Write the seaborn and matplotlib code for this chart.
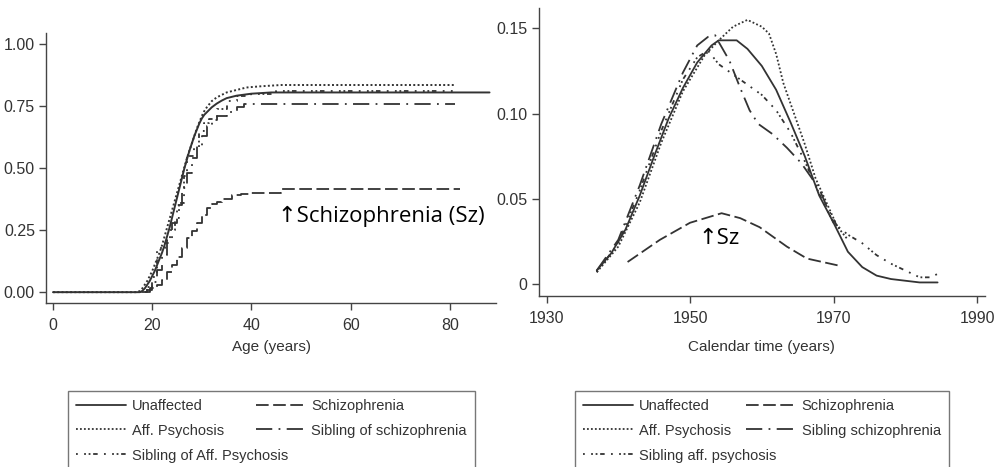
import matplotlib
matplotlib.use("Agg")
import matplotlib.pyplot as plt
from matplotlib.lines import Line2D
import seaborn as sns
import pandas as pd

# ---- left panel: cumulative incidence by age ----
age_unaff = [0, 17.5, 18, 18.5, 19, 19.5, 20, 20.5, 21, 21.5, 22, 22.5, 23, 23.5, 24, 24.5, 25, 25.5, 26, 26.5, 27, 27.5, 28, 28.5, 29, 29.5, 30, 30.5, 31, 32, 33, 34, 35, 37, 40, 44, 88]
inc_unaff = [0, 0, 0.005, 0.015, 0.03, 0.045, 0.065, 0.085, 0.11, 0.135, 0.16, 0.19, 0.225, 0.26, 0.30, 0.34, 0.38, 0.42, 0.46, 0.50, 0.535, 0.57, 0.60, 0.63, 0.655, 0.68, 0.70, 0.715, 0.725, 0.745, 0.76, 0.772, 0.782, 0.792, 0.80, 0.805, 0.805]
age_aff = [0, 17, 17.5, 18, 18.5, 19, 19.5, 20, 20.5, 21, 21.5, 22, 22.5, 23, 23.5, 24, 24.5, 25, 25.5, 26, 26.5, 27, 27.5, 28, 28.5, 29, 29.5, 30, 30.5, 31, 32, 33, 34, 35, 37, 39, 42, 46, 81]
inc_aff = [0, 0, 0.005, 0.015, 0.03, 0.045, 0.065, 0.085, 0.11, 0.135, 0.16, 0.19, 0.225, 0.26, 0.295, 0.33, 0.365, 0.40, 0.435, 0.47, 0.505, 0.54, 0.57, 0.60, 0.63, 0.66, 0.685, 0.71, 0.73, 0.745, 0.77, 0.785, 0.795, 0.805, 0.815, 0.825, 0.83, 0.835, 0.835]
age_sibaff = [17.5, 19, 20, 21, 22.5, 23.5, 24.5, 25.5, 26.5, 27, 28.5, 29.5, 30.5, 31.5, 33, 35, 37, 40, 45, 81]
inc_sibaff = [0, 0.02, 0.06, 0.18, 0.20, 0.25, 0.30, 0.36, 0.47, 0.55, 0.58, 0.65, 0.68, 0.70, 0.74, 0.77, 0.79, 0.80, 0.81, 0.81]
age_sz = [18.5, 19.5, 21, 22, 23, 24, 25, 26, 27, 28, 29, 30, 31, 32, 33, 34, 36, 38, 40, 46, 82]
inc_sz = [0, 0.015, 0.03, 0.05, 0.08, 0.11, 0.14, 0.18, 0.22, 0.245, 0.28, 0.31, 0.34, 0.355, 0.365, 0.375, 0.39, 0.395, 0.40, 0.415, 0.415]
age_sibsz = [18, 19, 20, 21, 22, 23, 24, 25, 26, 27, 28, 29, 30, 31, 32, 33, 35, 37, 38.5, 81]
inc_sibsz = [0, 0.01, 0.04, 0.09, 0.15, 0.21, 0.28, 0.35, 0.42, 0.48, 0.54, 0.59, 0.63, 0.67, 0.695, 0.71, 0.725, 0.745, 0.76, 0.76]

# ---- right panel: density by calendar year ----
yr_unaff = [1937, 1939, 1941, 1943, 1945, 1947, 1949, 1951, 1953, 1954, 1956.5, 1958, 1960, 1962, 1964, 1966, 1968, 1970, 1972, 1974, 1976, 1978, 1980, 1982, 1984.5]
den_unaff = [0.008, 0.018, 0.032, 0.052, 0.075, 0.097, 0.115, 0.130, 0.140, 0.143, 0.143, 0.138, 0.128, 0.114, 0.095, 0.075, 0.052, 0.036, 0.019, 0.010, 0.005, 0.003, 0.002, 0.001, 0.001]
yr_aff = [1937, 1940, 1943, 1946, 1949, 1952, 1954, 1956, 1958, 1960, 1961, 1962, 1963, 1964.5, 1966, 1967.5, 1969, 1970.5, 1972]
den_aff = [0.007, 0.022, 0.048, 0.083, 0.113, 0.134, 0.143, 0.151, 0.155, 0.151, 0.147, 0.135, 0.118, 0.100, 0.082, 0.062, 0.048, 0.034, 0.026]
yr_sibaff = [1937, 1940, 1943, 1946, 1949, 1951, 1952.5, 1954, 1957, 1960, 1962, 1964, 1966, 1968, 1970, 1972, 1974, 1976, 1978, 1980, 1982, 1983.5, 1985]
den_sibaff = [0.007, 0.024, 0.055, 0.090, 0.120, 0.133, 0.137, 0.129, 0.120, 0.111, 0.102, 0.089, 0.072, 0.053, 0.036, 0.029, 0.024, 0.017, 0.012, 0.008, 0.004, 0.004, 0.007]
yr_sz = [1941.3, 1945.8, 1950, 1954.4, 1957, 1959.7, 1963.5, 1966.3, 1970.6]
den_sz = [0.013, 0.026, 0.036, 0.0416, 0.0387, 0.0334, 0.022, 0.015, 0.011]
yr_sibsz = [1937, 1940, 1943, 1946, 1949, 1951, 1952.5, 1953.5, 1954, 1955.5, 1957, 1958.3, 1959.5, 1961.5, 1963.5, 1965.5, 1967, 1968, 1969, 1970.5]
den_sibsz = [0.008, 0.026, 0.058, 0.094, 0.124, 0.140, 0.145, 0.146, 0.142, 0.131, 0.115, 0.102, 0.094, 0.088, 0.080, 0.071, 0.062, 0.056, 0.046, 0.034]

left_labels = ["Unaffected", "Aff. Psychosis", "Sibling of Aff. Psychosis", "Schizophrenia", "Sibling of schizophrenia"]
right_labels = ["Unaffected", "Aff. Psychosis", "Sibling aff. psychosis", "Schizophrenia", "Sibling schizophrenia"]

dash_list = ["", (1, 1.2), (1, 3.5, 1, 1.5, 1, 1.5, 2.5, 3.5), (7, 2.5), (9, 3.5, 1, 3.5)]

sns.set_theme(style="ticks")
plt.rcParams["font.family"] = ["Liberation Sans Narrow", "Liberation Sans", "DejaVu Sans"]
ink = "#333333"


def long_df(xs_list, ys_list, labels):
    return pd.concat([pd.DataFrame({"x": xs, "y": ys, "group": lab})
                      for xs, ys, lab in zip(xs_list, ys_list, labels)])


left_df = long_df([age_unaff, age_aff, age_sibaff, age_sz, age_sibsz],
                  [inc_unaff, inc_aff, inc_sibaff, inc_sz, inc_sibsz], left_labels)
right_df = long_df([yr_unaff, yr_aff, yr_sibaff, yr_sz, yr_sibsz],
                   [den_unaff, den_aff, den_sibaff, den_sz, den_sibsz], right_labels)
dash_left = dict(zip(left_labels, dash_list))
dash_right = dict(zip(right_labels, dash_list))

fig = plt.figure(figsize=(10.03, 4.67), dpi=100)
ax1 = fig.add_axes([0.0459, 0.351, 0.4486, 0.578])
ax2 = fig.add_axes([0.537, 0.366, 0.445, 0.617])

# smooth-looking curves (fine steps) and visibly stepped curves
smooth = left_labels[:2]
stepped = left_labels[2:]
sns.lineplot(data=left_df[left_df.group.isin(smooth)], x="x", y="y", hue="group", style="group",
             hue_order=smooth, style_order=smooth, palette=[ink] * 2,
             dashes={k: dash_left[k] for k in smooth}, estimator=None, sort=False,
             lw=1.4, legend=False, ax=ax1)
sns.lineplot(data=left_df[left_df.group.isin(stepped)], x="x", y="y", hue="group", style="group",
             hue_order=stepped, style_order=stepped, palette=[ink] * 3,
             dashes={k: dash_left[k] for k in stepped}, estimator=None, sort=False,
             drawstyle="steps-post", lw=1.3, legend=False, ax=ax1)
sns.lineplot(data=right_df, x="x", y="y", hue="group", style="group",
             hue_order=right_labels, style_order=right_labels,
             palette=[ink] * 5, dashes=dash_right,
             estimator=None, sort=False, lw=1.3, legend=False, ax=ax2)

ax1.set_xlim(-1.4, 89.3)
ax1.set_ylim(-0.044, 1.044)
ax1.set_xticks([0, 20, 40, 60, 80])
ax1.set_yticks([0, 0.25, 0.5, 0.75, 1.0])
ax1.set_yticklabels(["0.00", "0.25", "0.50", "0.75", "1.00"])
ax1.set_xlabel("Age (years)", fontsize=11, color=ink, labelpad=5)
ax1.set_ylabel("")

ax2.set_xlim(1928.9, 1991.1)
ax2.set_ylim(-0.007, 0.162)
ax2.set_xticks([1930, 1950, 1970, 1990])
ax2.set_yticks([0, 0.05, 0.10, 0.15])
ax2.set_yticklabels(["0", "0.05", "0.10", "0.15"])
ax2.set_xlabel("Calendar time (years)", fontsize=11, color=ink, labelpad=10)
ax2.set_ylabel("")

for ax in (ax1, ax2):
    sns.despine(ax=ax)
    for s in ("left", "bottom"):
        ax.spines[s].set_color("#444444")
        ax.spines[s].set_linewidth(1.0)
    ax.tick_params(length=5, width=1, color="#444444", labelsize=11.5, labelcolor=ink, pad=3)
    ax.tick_params(axis="x", pad=6)

annot_font = ["Open Sans", "DejaVu Sans"]
ax1.text(45.3, 0.306, "\u2191Schizophrenia (Sz)", fontsize=16, family=annot_font,
         ha="left", va="center", color="black")
ax2.text(1951.2, 0.027, "\u2191Sz", fontsize=16, family=annot_font,
         ha="left", va="center", color="black")

for labels, x0, w in ((left_labels, 61, 421), (right_labels, 568, 388)):
    handles = [Line2D([], [], color=ink, lw=1.3,
                      linestyle="-" if d == "" else (0, d)) for d in dash_list]
    leg = fig.legend(handles, labels, ncol=2, loc="upper left", mode="expand",
                     bbox_to_anchor=(x0 / 1003, 1 - 388 / 467, w / 1003, 0.01),
                     fontsize=10.5, handlelength=3.4, handletextpad=0.4,
                     labelspacing=0.75, borderpad=0.55, fancybox=False,
                     frameon=True, edgecolor="#555555")
    leg.get_frame().set_linewidth(1.0)
    for t in leg.get_texts():
        t.set_color(ink)

fig.savefig("out.png", dpi=100)
